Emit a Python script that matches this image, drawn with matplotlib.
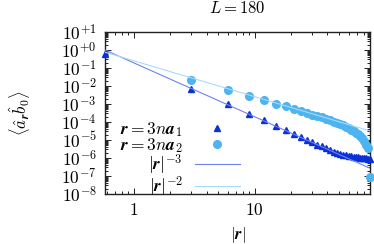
import matplotlib
matplotlib.use("Agg")
import matplotlib.pyplot as plt
from matplotlib.ticker import FixedLocator, FixedFormatter, LogLocator, NullFormatter

plt.rcParams['mathtext.fontset'] = 'cm'
plt.rcParams['font.family'] = ['DejaVu Serif']

# |r| along the two lattice directions (n = 0 point shown at the left edge)
r_a1 = [0.577, 3, 6, 9, 12, 15, 18, 21, 24, 27, 30, 33, 36, 39, 42, 45,
        48, 51, 54, 57, 60, 63, 66, 69, 72, 75, 78, 81, 84, 87, 90]
corr_a1 = [0.60, 6.6e-3, 9.6e-4, 2.96e-4, 1.24e-4, 6.2e-5, 3.6e-5, 2.15e-5,
           1.47e-5, 1.04e-5, 7.4e-6, 5.6e-6, 4.5e-6, 3.46e-6, 2.78e-6, 2.15e-6,
           1.9e-6, 1.67e-6, 1.53e-6, 1.41e-6, 1.29e-6, 1.23e-6, 1.17e-6, 1.12e-6,
           1.07e-6, 1.03e-6, 1.0e-6, 9.6e-7, 9.4e-7, 9.1e-7, 8.8e-7]

r_a2 = [3, 6, 9, 12, 15, 18, 21, 24, 27, 30, 33, 36, 39, 42, 45,
        48, 51, 54, 57, 60, 63, 66, 69, 72, 75, 78, 81, 84, 87, 90]
corr_a2 = [2.07e-2, 6.0e-3, 2.86e-3, 1.59e-3, 1.03e-3, 7.3e-4, 5.2e-4, 3.98e-4,
           3.12e-4, 2.58e-4, 2.15e-4, 1.78e-4, 1.51e-4, 1.28e-4, 1.05e-4, 8.7e-5,
           7.4e-5, 6.4e-5, 5.4e-5, 4.5e-5, 3.73e-5, 3.16e-5, 2.58e-5, 2.1e-5,
           1.67e-5, 1.24e-5, 8.8e-6, 5.6e-6, 3.4e-6, 9.1e-8]

# power-law guide lines (end points)
guide_x = [0.577, 90]
guide_m3 = [1.0, 2.7e-7]
guide_m2 = [0.75, 3.2e-5]

ytick_vals = [1e1, 1e0, 1e-1, 1e-2, 1e-3, 1e-4, 1e-5, 1e-6, 1e-7, 1e-8]
ytick_labels = [r'$10^{+1}$', r'$10^{+0}$', r'$10^{-1}$', r'$10^{-2}$', r'$10^{-3}$',
                r'$10^{-4}$', r'$10^{-5}$', r'$10^{-6}$', r'$10^{-7}$', r'$10^{-8}$']
xtick_vals = [1, 10]
xtick_labels = [r'$1$', r'$10$']

fig = plt.figure(figsize=(3.74, 2.44), dpi=100)
ax = fig.add_axes([0.2807, 0.2049, 0.7086, 0.664])

ax.plot(r_a1, corr_a1, ls='none', marker='^', ms=5, color='#0a30d8',
        mec='#0a30d8', clip_on=False, zorder=3,
        label=r'$\boldsymbol{r} = 3n\boldsymbol{a}_1$')
ax.plot(r_a2, corr_a2, ls='none', marker='o', ms=5.5, color='#4db4f0',
        mec='#4db4f0', clip_on=False, zorder=3,
        label=r'$\boldsymbol{r} = 3n\boldsymbol{a}_2$')
ax.plot(guide_x, guide_m3, color='#6f82f0', lw=0.8, zorder=4,
        label=r'$|\boldsymbol{r}|^{-3}$')
ax.plot(guide_x, guide_m2, color='#a6dcfa', lw=0.8, zorder=4,
        label=r'$|\boldsymbol{r}|^{-2}$')

ax.set_xscale('log')
ax.set_yscale('log')
ax.set_xlim(0.577, 90)
ax.set_ylim(1e-8, 1e1)

ax.yaxis.set_major_locator(FixedLocator(ytick_vals))
ax.yaxis.set_major_formatter(FixedFormatter(ytick_labels))
ax.yaxis.set_minor_locator(LogLocator(base=10, subs=range(2, 10), numticks=20))
ax.yaxis.set_minor_formatter(NullFormatter())
ax.xaxis.set_major_locator(FixedLocator(xtick_vals))
ax.xaxis.set_major_formatter(FixedFormatter(xtick_labels))
ax.xaxis.set_minor_locator(LogLocator(base=10, subs=range(2, 10), numticks=20))
ax.xaxis.set_minor_formatter(NullFormatter())

ax.tick_params(which='both', direction='in', top=True, right=True, labelsize=12.5,
               width=0.7, color='#222222')
ax.tick_params(which='major', length=4, pad=6)
ax.tick_params(which='minor', length=2)
for s in ax.spines.values():
    s.set_linewidth(1.0)
    s.set_color('#222222')

ax.set_title(r'$L = 180$', fontsize=12, pad=14)
ax.set_xlabel(r'$|\boldsymbol{r}|$', fontsize=12, labelpad=4)
ax.set_ylabel(r'$\langle \hat{a}_{\boldsymbol{r}}\hat{b}_{\boldsymbol{0}}\rangle$',
              fontsize=12, labelpad=20)

ax.legend(loc='lower left', bbox_to_anchor=(0.043, -0.05), frameon=False,
          markerfirst=False, fontsize=12.5, handlelength=2.6, handletextpad=0.7,
          labelspacing=-0.15, borderpad=0.2, borderaxespad=0)

fig.savefig('out.png', dpi=100)
